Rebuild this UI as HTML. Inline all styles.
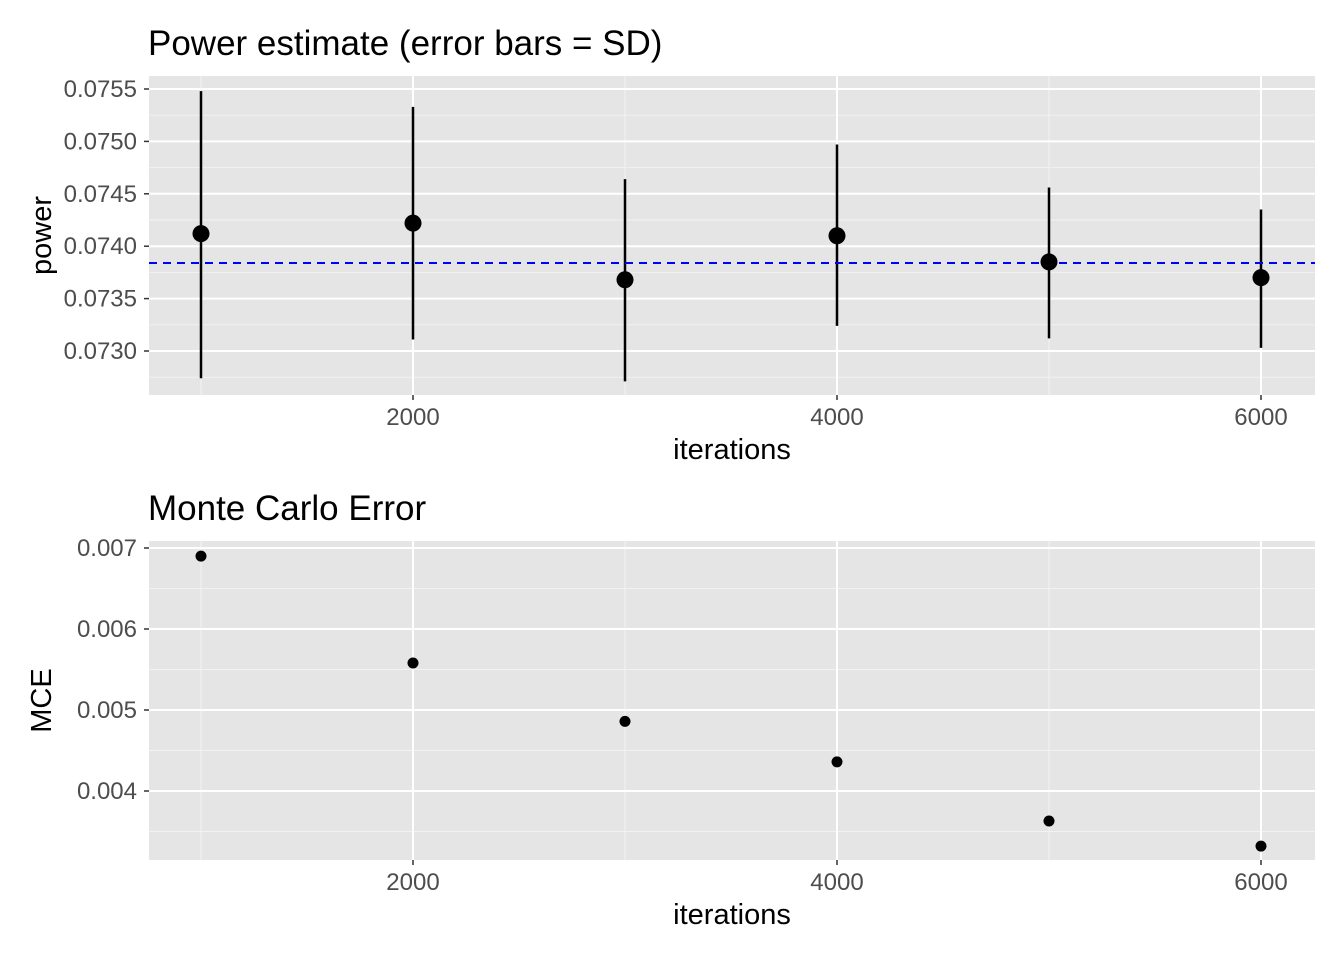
<!DOCTYPE html>
<html><head><meta charset="utf-8"><style>
body{margin:0;background:#fff;}
svg{display:block;font-family:"Liberation Sans",Arial,sans-serif;}
</style></head><body>
<svg id="chart" width="1344" height="960" xmlns="http://www.w3.org/2000/svg"></svg>
<script>
const iterations=[1000,2000,3000,4000,5000,6000];
const power=[0.07412,0.07422,0.07368,0.07410,0.07385,0.07370];
const sdLow=[0.07274,0.07311,0.07271,0.07324,0.07312,0.07303];
const sdHigh=[0.07548,0.07533,0.07464,0.07497,0.07456,0.07435];
const refLine=0.07384;
const mce=[0.00690,0.00558,0.00486,0.00436,0.00363,0.00332];
const xTicks=[2000,4000,6000];
const yTicksTop=[0.0730,0.0735,0.0740,0.0745,0.0750,0.0755];
const yTicksBot=[0.004,0.005,0.006,0.007];

const svg=document.getElementById('chart');
const NS='http://www.w3.org/2000/svg';
function mk(tag,attrs,parent){const e=document.createElementNS(NS,tag);for(const k in attrs)e.setAttribute(k,attrs[k]);(parent||svg).appendChild(e);return e;}
const X0=149,X1=1315;
const xs=v=>201+(v-1000)*0.212;
function panel(top,bottom,ys,yTicks,yFmt,title,ylab,name){
  const g=mk('g',{});
  
  
  const bg=mk('rect',{x:X0,y:top,width:X1-X0,height:bottom-top,fill:'#e5e5e5'},g);
  
  
  const step=yTicks[1]-yTicks[0];
  for(let i=-1;i<yTicks.length;i++){const v=yTicks[0]+step*(i+0.5);const y=ys(v);if(y>top&&y<bottom)mk('line',{x1:X0,x2:X1,y1:y,y2:y,stroke:'#f2f2f2','stroke-width':1},g);}
  [1000,3000,5000].forEach(v=>mk('line',{x1:xs(v),x2:xs(v),y1:top,y2:bottom,stroke:'#f2f2f2','stroke-width':1},g));
  yTicks.forEach(v=>{const y=ys(v);mk('line',{x1:X0,x2:X1,y1:y,y2:y,stroke:'#fff','stroke-width':2},g);
    mk('line',{x1:144,x2:149,y1:y,y2:y,stroke:'#333','stroke-width':1.5},g);
    const t=mk('text',{x:137,y:y+8,'text-anchor':'end','font-size':24,fill:'#4d4d4d'},g);t.textContent=yFmt(v);
    });
  xTicks.forEach(v=>{const x=xs(v);mk('line',{x1:x,x2:x,y1:top,y2:bottom,stroke:'#fff','stroke-width':2},g);
    mk('line',{x1:x,x2:x,y1:bottom,y2:bottom+5,stroke:'#333','stroke-width':1.5},g);
    const t=mk('text',{x:x,y:bottom+30,'text-anchor':'middle','font-size':24,fill:'#4d4d4d'},g);t.textContent=v;
    });
  const tt=mk('text',{x:148,y:top-21,'font-size':35,fill:'#000'},g);tt.textContent=title;
  
  const xl=mk('text',{x:(X0+X1)/2,y:bottom+64,'text-anchor':'middle','font-size':29,fill:'#000'},g);xl.textContent='iterations';
  
  const cy=(top+bottom)/2;
  const yl=mk('text',{x:51,y:cy,'text-anchor':'middle','font-size':29,fill:'#000',transform:`rotate(-90 51 ${cy})`},g);yl.textContent=ylab;
  
  return g;
}
const ysT=v=>89+(0.0755-v)*104800;
const gT=panel(76,395,ysT,yTicksTop,v=>v.toFixed(4),'Power estimate (error bars = SD)','power','power-panel');
iterations.forEach((it,i)=>{
  const l=mk('line',{x1:xs(it),x2:xs(it),y1:ysT(sdHigh[i]),y2:ysT(sdLow[i]),stroke:'#000','stroke-width':2.5},gT);
  
});
const dl=mk('line',{x1:X0,x2:X1,y1:ysT(refLine),y2:ysT(refLine),stroke:'#0000ff','stroke-width':2,'stroke-dasharray':'8,6'},gT);

iterations.forEach((it,i)=>{
  const c=mk('circle',{cx:xs(it),cy:ysT(power[i]),r:8.5,fill:'#000'},gT);
  
});
const ysB=v=>548+(0.007-v)*81000;
const gB=panel(541,860,ysB,yTicksBot,v=>v.toFixed(3),'Monte Carlo Error','MCE','mce-panel');
iterations.forEach((it,i)=>{
  const c=mk('circle',{cx:xs(it),cy:ysB(mce[i]),r:5.5,fill:'#000'},gB);
  
});
</script>
</body></html>
